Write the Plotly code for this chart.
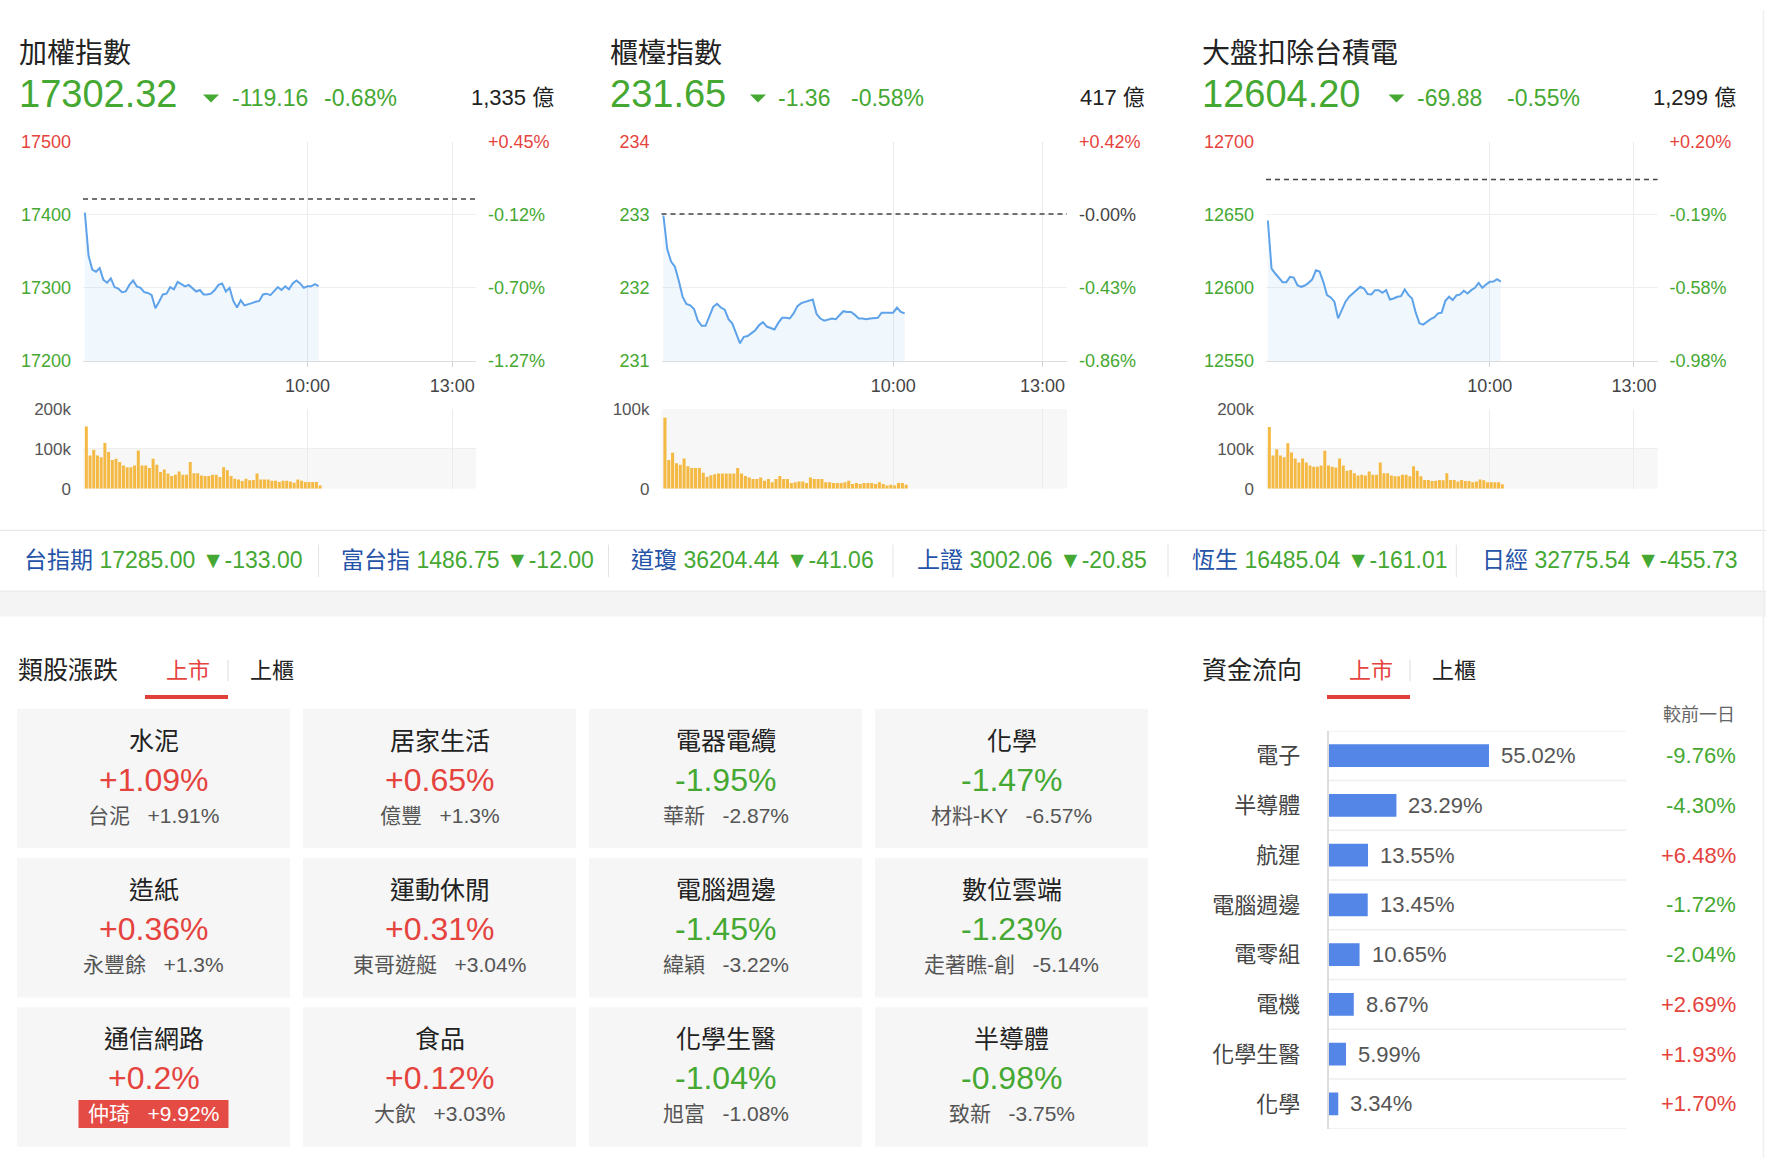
import plotly.graph_objects as go

W, H = 1766, 1168

# ---------------- data ----------------
index_names = ["加權指數", "櫃檯指數", "大盤扣除台積電"]
index_last = [17302.32, 231.65, 12604.20]
index_change = [-119.16, -1.36, -69.88]
index_change_pct = [-0.68, -0.58, -0.55]
index_turnover = ["1,335 億", "417 億", "1,299 億"]

price_ticks = [[17200, 17300, 17400, 17500], [231, 232, 233, 234], [12550, 12600, 12650, 12700]]
volume_ticks = [[0, 100, 200], [0, 100], [0, 100, 200]]
volume_tick_text = [["0", "100k", "200k"], ["0", "100k"], ["0", "100k", "200k"]]
time_tick_pos = [60, 99]
time_tick_text = ["10:00", "13:00"]

taiex_line = [17403, 17344, 17325, 17322, 17327, 17311, 17307, 17313, 17301, 17299,
              17294, 17295, 17304, 17310, 17302, 17300, 17294, 17293, 17290, 17272,
              17281, 17291, 17292, 17301, 17298, 17308, 17305, 17302, 17304, 17300,
              17295, 17297, 17291, 17291, 17292, 17297, 17304, 17306, 17295, 17300,
              17282, 17273, 17283, 17276, 17277, 17279, 17281, 17282, 17291, 17292,
              17290, 17296, 17301, 17297, 17302, 17298, 17306, 17310, 17306, 17300,
              17302, 17302, 17305, 17302.32]
otc_line = [232.99, 232.53, 232.36, 232.29, 232.10, 231.88, 231.78, 231.76, 231.71, 231.55,
            231.48, 231.48, 231.61, 231.74, 231.78, 231.73, 231.70, 231.57, 231.51, 231.36,
            231.24, 231.33, 231.34, 231.38, 231.42, 231.49, 231.53, 231.47, 231.45, 231.43,
            231.52, 231.59, 231.59, 231.58, 231.65, 231.75, 231.79, 231.81, 231.83, 231.84,
            231.64, 231.58, 231.55, 231.57, 231.58, 231.57, 231.62, 231.68, 231.67, 231.67,
            231.63, 231.58, 231.58, 231.57, 231.58, 231.58, 231.59, 231.66, 231.66, 231.65,
            231.66, 231.73, 231.67, 231.65]
ex_tsmc_line = [12646.1, 12613.2, 12609.8, 12607.0, 12603.9, 12603.9, 12607.5, 12607.0, 12601.8, 12600.7,
                12601.6, 12603.4, 12605.7, 12612.0, 12611.1, 12604.1, 12595.0, 12593.4, 12590.5, 12579.1,
                12585.2, 12590.5, 12593.9, 12596.1, 12598.9, 12600.7, 12599.5, 12595.7, 12595.5, 12598.4,
                12598.4, 12596.6, 12598.4, 12592.0, 12592.7, 12593.9, 12594.3, 12598.9, 12595.2, 12592.7,
                12583.0, 12575.7, 12574.8, 12576.8, 12578.6, 12579.8, 12582.5, 12583.0, 12591.1, 12593.9,
                12591.6, 12594.8, 12595.5, 12598.0, 12596.1, 12598.4, 12600.0, 12603.4, 12600.0, 12602.3,
                12604.1, 12604.3, 12605.9, 12604.2]

# per-minute volume, in thousands
taiex_vol = [156, 83, 98, 83, 79, 115, 92, 72, 75, 67,
             58, 54, 54, 58, 96, 58, 58, 52, 75, 60,
             42, 48, 38, 32, 35, 43, 35, 35, 67, 39,
             39, 33, 32, 32, 35, 35, 29, 54, 46, 32,
             25, 23, 19, 25, 21, 22, 38, 23, 23, 23,
             20, 20, 17, 20, 20, 18, 15, 23, 20, 17,
             17, 17, 17, 8]
otc_vol = [89, 36, 45, 32, 30, 38, 28, 26, 26, 26,
           20, 15, 17, 18, 19, 19, 19, 19, 19, 26,
           19, 16, 14, 12, 12, 14, 10, 12, 8, 12,
           16, 12, 12, 7, 8, 9, 9, 7, 14, 12,
           12, 12, 8, 8, 7, 7, 7, 8, 10, 6,
           7, 6, 7, 7, 7, 6, 8, 6, 4, 5,
           4, 7, 7, 5]
ex_tsmc_vol = [155, 83, 99, 83, 79, 114, 91, 76, 66, 76,
               66, 58, 55, 55, 58, 95, 58, 55, 53, 76,
               58, 45, 47, 39, 33, 35, 33, 43, 35, 35,
               66, 39, 39, 33, 31, 31, 35, 35, 31, 56,
               45, 31, 22, 22, 19, 20, 22, 21, 39, 22,
               22, 18, 22, 19, 19, 16, 18, 23, 21, 16,
               16, 16, 16, 11]

ticker_names = ["台指期", "富台指", "道瓊", "上證", "恆生", "日經"]
ticker_values = [17285.00, 1486.75, 36204.44, 3002.06, 16485.04, 32775.54]
ticker_changes = [-133.00, -12.00, -41.06, -20.85, -161.01, -455.73]

sector_names = ["水泥", "居家生活", "電器電纜", "化學", "造紙", "運動休閒",
                "電腦週邊", "數位雲端", "通信網路", "食品", "化學生醫", "半導體"]
sector_pct = [1.09, 0.65, -1.95, -1.47, 0.36, 0.31, -1.45, -1.23, 0.2, 0.12, -1.04, -0.98]
leader_names = ["台泥", "億豐", "華新", "材料-KY", "永豐餘", "東哥遊艇",
                "緯穎", "走著瞧-創", "仲琦", "大飲", "旭富", "致新"]
leader_pct = [1.91, 1.3, -2.87, -6.57, 1.3, 3.04, -3.22, -5.14, 9.92, 3.03, -1.08, -3.75]

flow_names = ["電子", "半導體", "航運", "電腦週邊", "電零組", "電機", "化學生醫", "化學"]
flow_share = [55.02, 23.29, 13.55, 13.45, 10.65, 8.67, 5.99, 3.34]
flow_change = [-9.76, -4.30, 6.48, -1.72, -2.04, 2.69, 1.93, 1.70]

# ---------------- styling ----------------
FONT = "Liberation Sans, Arial, Noto Sans CJK TC, sans-serif"
RED = "#e5433d"
GREEN = "#45a832"
DARK = "#222222"
GRAYTXT = "#555555"
LINEBLUE = "#5ea3ea"
FILLBLUE = "rgba(94,163,234,0.09)"
VOLCOLOR = "#f4b942"
TICKERBLUE = "#2553a8"
BARBLUE = "#5486e8"


def fx(x):
    return x / W


def fy(y):
    return 1 - y / H


def ref(kind, k):
    return kind if k == 1 else f"{kind}{k}"


def axname(kind, k):
    return f"{kind}axis" if k == 1 else f"{kind}axis{k}"


def updown(v):
    return RED if v > 0 else (GREEN if v < 0 else DARK)


shapes, annotations = [], []


def prect(x0, y0, x1, y1, color, layer="below"):
    shapes.append(dict(type="rect", xref="paper", yref="paper", x0=fx(x0), x1=fx(x1),
                       y0=fy(y1), y1=fy(y0), fillcolor=color, line=dict(width=0), layer=layer))


def pline(x0, y0, x1, y1, color, width=1):
    shapes.append(dict(type="line", xref="paper", yref="paper", x0=fx(x0), x1=fx(x1),
                       y0=fy(y0), y1=fy(y1), line=dict(color=color, width=width)))


def ptext(x, y, s, size, color, anchor="left"):
    annotations.append(dict(xref="paper", yref="paper", x=fx(x), y=fy(y), text=s, showarrow=False,
                            xanchor=anchor, yanchor="middle", font=dict(size=size, color=color)))


fig = go.Figure()
layout = {}

# ---------------- three index charts ----------------
lines = [taiex_line, otc_line, ex_tsmc_line]
vols = [taiex_vol, otc_vol, ex_tsmc_vol]
chart_x = [(83, 476), (661.5, 1067), (1266, 1657.6)]
LINE_TOP, LINE_BOT = 134, 357
VOL_TOP, VOL_BOT = 406, 487
XRANGE = [-0.5, 105.4]
header_x = [17, 608, 1200]
tri_x = [211, 758, 1396.5]
chg_x = [230, 776, 1415]
pct_x = [322, 849, 1505]
turn_x = [556, 1147, 1737.5]

for i in range(3):
    xl, xv = 2 * i + 1, 2 * i + 2
    yl, yr, yv = 3 * i + 1, 3 * i + 2, 3 * i + 3
    x0, x1 = chart_x[i]
    prev = index_last[i] - index_change[i]
    ticks = price_ticks[i]
    lo, hi = ticks[0], ticks[-1]
    left_text = [f'<span style="color:{RED if v > prev else GREEN}">{v}</span>' for v in ticks]
    right_text = []
    for v in ticks:
        p = (v - prev) / prev * 100
        c = "#444444" if abs(p) < 0.005 else (RED if p > 0 else GREEN)
        right_text.append(f'<span style="color:{c}">{p:+.2f}%</span>')

    n = len(lines[i])
    fig.add_trace(go.Scatter(x=list(range(n)), y=lines[i], mode="lines",
                             line=dict(color=LINEBLUE, width=2), fill="tozeroy", fillcolor=FILLBLUE,
                             xaxis=ref("x", xl), yaxis=ref("y", yl), hoverinfo="skip", showlegend=False))
    fig.add_trace(go.Scatter(x=[0], y=[prev], mode="markers", marker=dict(opacity=0),
                             xaxis=ref("x", xl), yaxis=ref("y", yr), hoverinfo="skip", showlegend=False))
    fig.add_trace(go.Bar(x=list(range(len(vols[i]))), y=vols[i], width=0.8, offset=0,
                         marker=dict(color=VOLCOLOR, line=dict(width=0)),
                         xaxis=ref("x", xv), yaxis=ref("y", yv), hoverinfo="skip", showlegend=False))

    layout[axname("x", xl)] = dict(
        domain=[fx(x0), fx(x1)], range=XRANGE, anchor=ref("y", yl), tickmode="array",
        tickvals=time_tick_pos, ticktext=time_tick_text, showgrid=True, gridcolor="#ebebeb",
        zeroline=False, showline=True, linecolor="#dcdcdc", ticks="outside", ticklen=5,
        tickcolor="#d3d3d3", tickfont=dict(size=18, color="#444"), ticklabelstandoff=4, fixedrange=True)
    layout[axname("y", yl)] = dict(
        domain=[fy(LINE_BOT), fy(LINE_TOP)], range=[lo, hi], anchor=ref("x", xl), tickmode="array",
        tickvals=ticks, ticktext=left_text, showgrid=True, gridcolor="#efefef", zeroline=False,
        ticks="", ticklabelstandoff=11, tickfont=dict(size=18), fixedrange=True)
    layout[axname("y", yr)] = dict(
        overlaying=ref("y", yl), side="right", anchor=ref("x", xl), range=[lo, hi], tickmode="array",
        tickvals=ticks, ticktext=right_text, showgrid=False, zeroline=False, ticks="",
        ticklabelstandoff=11, tickfont=dict(size=18), fixedrange=True)
    layout[axname("x", xv)] = dict(
        domain=[fx(x0), fx(x1)], range=XRANGE, anchor=ref("y", yv), tickmode="array",
        tickvals=time_tick_pos, showticklabels=False, showgrid=True, gridcolor="#ebebeb",
        zeroline=False, ticks="", fixedrange=True)
    layout[axname("y", yv)] = dict(
        domain=[fy(VOL_BOT), fy(VOL_TOP)], range=[0, volume_ticks[i][-1]], anchor=ref("x", xv),
        tickmode="array", tickvals=volume_ticks[i], ticktext=volume_tick_text[i], showgrid=True,
        gridcolor="#eeeeee", zeroline=False, ticks="", ticklabelstandoff=11,
        tickfont=dict(size=17, color=GRAYTXT), fixedrange=True)

    # light band below 100k
    shapes.append(dict(type="rect", xref=f"{ref('x', xv)} domain", x0=0, x1=1, yref=ref("y", yv),
                       y0=0, y1=100, fillcolor="#f7f7f7", line=dict(width=0), layer="below"))
    # previous close
    shapes.append(dict(type="line", xref=f"{ref('x', xl)} domain", x0=0, x1=1, yref=ref("y", yl),
                       y0=prev, y1=prev, line=dict(color="#444", width=1.5, dash="5px,4px")))

    # header
    col = updown(index_change[i])
    ptext(header_x[i], 44, index_names[i], 28, DARK)
    ptext(header_x[i], 85, f"{index_last[i]:.2f}", 38, col)
    tx = tri_x[i]
    if index_change[i] < 0:
        path = f"M {fx(tx - 8)},{fy(86)} L {fx(tx + 8)},{fy(86)} L {fx(tx)},{fy(94)} Z"
    else:
        path = f"M {fx(tx - 8)},{fy(94)} L {fx(tx + 8)},{fy(94)} L {fx(tx)},{fy(86)} Z"
    shapes.append(dict(type="path", xref="paper", yref="paper", path=path, fillcolor=col,
                       line=dict(width=0)))
    ptext(chg_x[i], 89.5, f"{index_change[i]:.2f}", 23, col)
    ptext(pct_x[i], 89.5, f"{index_change_pct[i]:.2f}%", 23, col)
    ptext(turn_x[i], 89.5, index_turnover[i], 22, DARK, anchor="right")

# ---------------- ticker strip ----------------
pline(0, 529.5, W, 529.5, "#e8e8e8", 1.2)
prect(0, 591, W, 617, "#f4f4f4")
pline(0, 591.5, W, 591.5, "#ececec", 1.5)
ticker_x = [21.8, 338.7, 628.6, 915, 1189.6, 1480]
sep_x = [318.6, 608.5, 893, 1168, 1456.3]
for k, name in enumerate(ticker_names):
    chg = ticker_changes[k]
    arrow = "▼" if chg < 0 else "▲"
    s = f'<span style="color:{TICKERBLUE}">{name}</span> {ticker_values[k]:.2f} {arrow}{chg:.2f}'
    ptext(ticker_x[k], 560, s, 23, updown(chg))
for sx in sep_x:
    pline(sx, 544, sx, 577, "#e3e3e3", 1)

# ---------------- section headers ----------------
ptext(16, 672, "類股漲跌", 25, DARK)
ptext(164, 672, "上市", 22, RED)
ptext(248, 672, "上櫃", 22, DARK)
pline(228, 661, 228, 683, "#dddddd", 1)
prect(145, 697, 228, 701, "#e0403a", layer="above")

ptext(1200, 672, "資金流向", 25, DARK)
ptext(1347, 672, "上市", 22, RED)
ptext(1430, 672, "上櫃", 22, DARK)
pline(1410, 661, 1410, 683, "#dddddd", 1)
prect(1327, 697, 1410, 701, "#e0403a", layer="above")
ptext(1737, 717, "較前一日", 18, "#666666", anchor="right")

# right page edge
pline(1763.5, 0, 1763.5, H, "#eeeeee", 1.5)

# ---------------- sector tiles ----------------
ncol = 4
cols = [k % ncol for k in range(len(sector_names))]
rows = [k // ncol for k in range(len(sector_names))]
nrow = max(rows) + 1
fig.add_trace(go.Scatter(x=cols, y=rows, mode="markers", marker=dict(opacity=0),
                         xaxis="x7", yaxis="y10", hoverinfo="skip", showlegend=False))
layout["xaxis7"] = dict(domain=[fx(10.5), fx(1154.5)], range=[-0.5, ncol - 0.5], visible=False,
                        anchor="y10", fixedrange=True)
layout["yaxis10"] = dict(domain=[fy(1161.4), fy(706.1)], range=[nrow - 0.5, -0.5], visible=False,
                         anchor="x7", fixedrange=True)
for k, name in enumerate(sector_names):
    c, r = cols[k], rows[k]
    shapes.append(dict(type="rect", xref="x7", yref="y10", xsizemode="pixel", ysizemode="pixel",
                       xanchor=c, yanchor=r, x0=-136.5, x1=136.5, y0=-69.75, y1=69.75,
                       fillcolor="#f6f6f6", line=dict(width=0), layer="below"))
    annotations.append(dict(xref="x7", yref="y10", x=c, y=r, yshift=38, text=name, showarrow=False,
                            font=dict(size=25, color=DARK)))
    annotations.append(dict(xref="x7", yref="y10", x=c, y=r, yshift=-1,
                            text=f"{format(sector_pct[k], '+g')}%", showarrow=False,
                            font=dict(size=32, color=updown(sector_pct[k]))))
    limit_up = leader_pct[k] >= 9.5
    if limit_up:
        shapes.append(dict(type="rect", xref="x7", yref="y10", xsizemode="pixel", ysizemode="pixel",
                           xanchor=c, yanchor=r, x0=-75, x1=75, y0=-51, y1=-23,
                           fillcolor="#e44b45", line=dict(width=0), layer="below"))
    annotations.append(dict(xref="x7", yref="y10", x=c, y=r, yshift=-37,
                            text=f"{leader_names[k]}\u00a0\u00a0 {format(leader_pct[k], '+g')}%",
                            showarrow=False,
                            font=dict(size=21, color="#ffffff" if limit_up else GRAYTXT)))

# ---------------- money flow bars ----------------
fig.add_trace(go.Bar(x=flow_share, y=flow_names, orientation="h", width=0.46,
                     marker=dict(color=BARBLUE, line=dict(width=0)),
                     xaxis="x8", yaxis="y11", hoverinfo="skip", showlegend=False))
nf = len(flow_names)
layout["xaxis8"] = dict(domain=[fx(1328.5), fx(1626)], range=[0, 102], visible=False,
                        anchor="y11", fixedrange=True)
layout["yaxis11"] = dict(domain=[fy(1138.3), fy(733.3)], range=[nf - 0.5, -0.5], anchor="x8",
                         type="category", categoryorder="array", categoryarray=flow_names,
                         showline=True, linecolor="#dddddd", linewidth=1.5, showgrid=False,
                         zeroline=False, ticks="", ticklabelstandoff=22,
                         tickfont=dict(size=22, color="#444"), fixedrange=True)
for k in range(nf + 1):
    shapes.append(dict(type="line", xref="x8 domain", x0=0, x1=1, yref="y11",
                       y0=k - 0.5, y1=k - 0.5, line=dict(color="#eeeeee", width=1.5), layer="below"))
for k, name in enumerate(flow_names):
    annotations.append(dict(xref="x8", yref="y11", x=flow_share[k], y=name, xanchor="left", xshift=10,
                            text=f"{flow_share[k]:.2f}%", showarrow=False,
                            font=dict(size=22, color=GRAYTXT)))
    annotations.append(dict(xref="paper", yref="y11", x=fx(1737.5), y=name, xanchor="right",
                            text=f"{flow_change[k]:+.2f}%", showarrow=False,
                            font=dict(size=22, color=updown(flow_change[k]))))

fig.update_layout(
    width=W, height=H, autosize=False, margin=dict(l=0, r=0, t=0, b=0),
    paper_bgcolor="white", plot_bgcolor="rgba(0,0,0,0)", showlegend=False, hovermode=False,
    font=dict(family=FONT, color=DARK), shapes=shapes, annotations=annotations, **layout)

fig.write_html("out.html", include_plotlyjs=True, config={"displayModeBar": False})
